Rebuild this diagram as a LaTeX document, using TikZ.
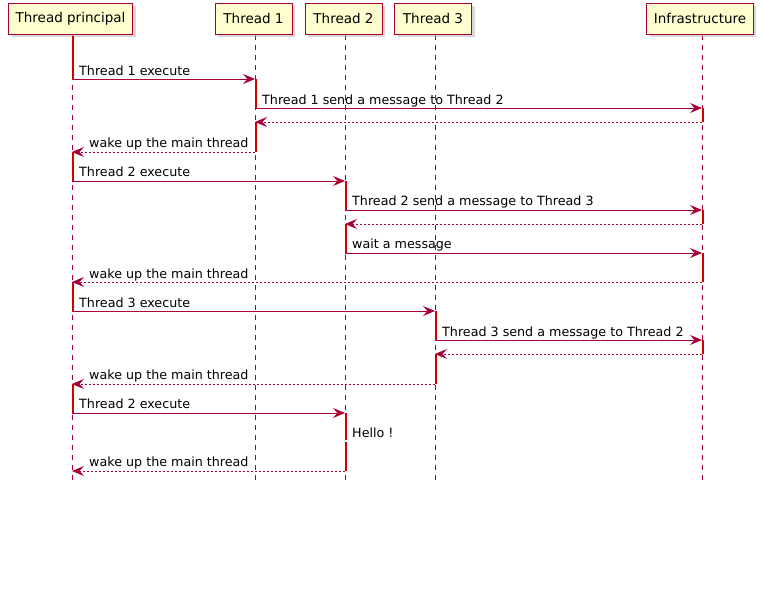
\documentclass[tikz,border=0pt]{standalone}
\usepackage{fontspec}
\setmainfont{DejaVu Sans}
\usetikzlibrary{arrows.meta,shadows}
\definecolor{umlred}{HTML}{A80036}
\definecolor{umlfill}{HTML}{FEFECE}
\definecolor{actred}{HTML}{D40000}
\tikzset{
  part/.style={draw=umlred,fill=umlfill,line width=1pt,minimum height=31pt,inner xsep=7pt,font=\fontsize{13.5}{16}\selectfont,anchor=center,
     drop shadow={shadow xshift=3pt,shadow yshift=-3pt,fill=black!30,opacity=0.5}},
  life/.style={draw=umlred,line width=0.8pt,dash pattern=on 5pt off 5pt},
  msg/.style={draw=umlred,line width=1pt,-{Stealth[length=12pt,width=10pt,inset=4.5pt]}},
  ret/.style={msg,dash pattern=on 2pt off 2pt},
  act/.style={draw=actred,line width=2pt},
  lbl/.style={font=\fontsize{12.7}{15}\selectfont,anchor=base west,inner sep=0pt}
}
\begin{document}
\begin{tikzpicture}[x=1pt,y=-1pt]
\useasboundingbox (0,0) rectangle (763,605);
% lifelines
\coordinate (p0) at (72,35); \coordinate (p1) at (72,483);
\coordinate (a0) at (255,35); \coordinate (a1) at (255,483);
\coordinate (b0) at (345,35); \coordinate (b1) at (345,483);
\coordinate (c0) at (435,35); \coordinate (c1) at (435,483);
\coordinate (i0) at (702,35); \coordinate (i1) at (702,483);
\draw[life] (p0) -- (p1);
\draw[life] (a0) -- (a1);
\draw[life] (b0) -- (b1);
\draw[life] (c0) -- (c1);
\draw[life] (i0) -- (i1);
% participants
\node[part,minimum width=124pt] (P) at (70.5,18.5) {Thread principal};
\node[part,minimum width=77pt] (T1) at (253.5,18.5) {Thread 1};
\node[part,minimum width=77pt] (T2) at (343.5,18.5) {Thread 2};
\node[part,minimum width=77pt] (T3) at (433,18.5) {Thread 3};
\node[part,minimum width=106pt] (I) at (700,18.5) {Infrastructure};
% activations
\foreach \x/\a/\b in {73/36/79, 73/152/181, 73/282/311, 73/384/413,
  256/79/108, 256/122/152,
  346/181/210, 346/224/253, 346/413/440, 346/442/471,
  436/311/340, 436/354/384,
  703/108/122, 703/210/224, 703/253/282, 703/340/354}
  \draw[act] (\x,\a) -- (\x,\b);
% message anchor coordinates
\coordinate (m1s) at (72,79);  \coordinate (m1e) at (255,79);
\coordinate (m2s) at (255,108); \coordinate (m2e) at (702,108);
\coordinate (m3s) at (702,122); \coordinate (m3e) at (255,122);
\coordinate (m4s) at (255,152); \coordinate (m4e) at (72,152);
\coordinate (m5s) at (72,181);  \coordinate (m5e) at (345,181);
\coordinate (m6s) at (345,210); \coordinate (m6e) at (702,210);
\coordinate (m7s) at (702,224); \coordinate (m7e) at (345,224);
\coordinate (m8s) at (345,253); \coordinate (m8e) at (702,253);
\coordinate (m9s) at (702,282); \coordinate (m9e) at (72,282);
\coordinate (m10s) at (72,311); \coordinate (m10e) at (435,311);
\coordinate (m11s) at (435,340); \coordinate (m11e) at (702,340);
\coordinate (m12s) at (702,354); \coordinate (m12e) at (435,354);
\coordinate (m13s) at (435,384); \coordinate (m13e) at (72,384);
\coordinate (m14s) at (72,413); \coordinate (m14e) at (345,413);
\coordinate (m16s) at (345,471); \coordinate (m16e) at (72,471);
\draw[msg] (m1s) -- (m1e);
\draw[msg] (m2s) -- (m2e);
\draw[ret] (m3s) -- (m3e);
\draw[ret] (m4s) -- (m4e);
\draw[msg] (m5s) -- (m5e);
\draw[msg] (m6s) -- (m6e);
\draw[ret] (m7s) -- (m7e);
\draw[msg] (m8s) -- (m8e);
\draw[ret] (m9s) -- (m9e);
\draw[msg] (m10s) -- (m10e);
\draw[msg] (m11s) -- (m11e);
\draw[ret] (m12s) -- (m12e);
\draw[ret] (m13s) -- (m13e);
\draw[msg] (m14s) -- (m14e);
\draw[ret] (m16s) -- (m16e);
% labels
\node[lbl] (l1) at (79,75) {Thread 1 execute};
\node[lbl] (l2) at (262,104) {Thread 1 send a message to Thread 2};
\node[lbl] (l4) at (89,147) {wake up the main thread};
\node[lbl] (l5) at (79,176) {Thread 2 execute};
\node[lbl] (l6) at (352,205) {Thread 2 send a message to Thread 3};
\node[lbl] (l8) at (352,248) {wait a message};
\node[lbl] (l9) at (89,278) {wake up the main thread};
\node[lbl] (l10) at (79,307) {Thread 3 execute};
\node[lbl] (l11) at (442,336) {Thread 3 send a message to Thread 2};
\node[lbl] (l13) at (89,379) {wake up the main thread};
\node[lbl] (l14) at (79,408) {Thread 2 execute};
\node[lbl] (l15) at (352,437) {Hello !};
\node[lbl] (l16) at (89,466) {wake up the main thread};
\end{tikzpicture}
\end{document}
